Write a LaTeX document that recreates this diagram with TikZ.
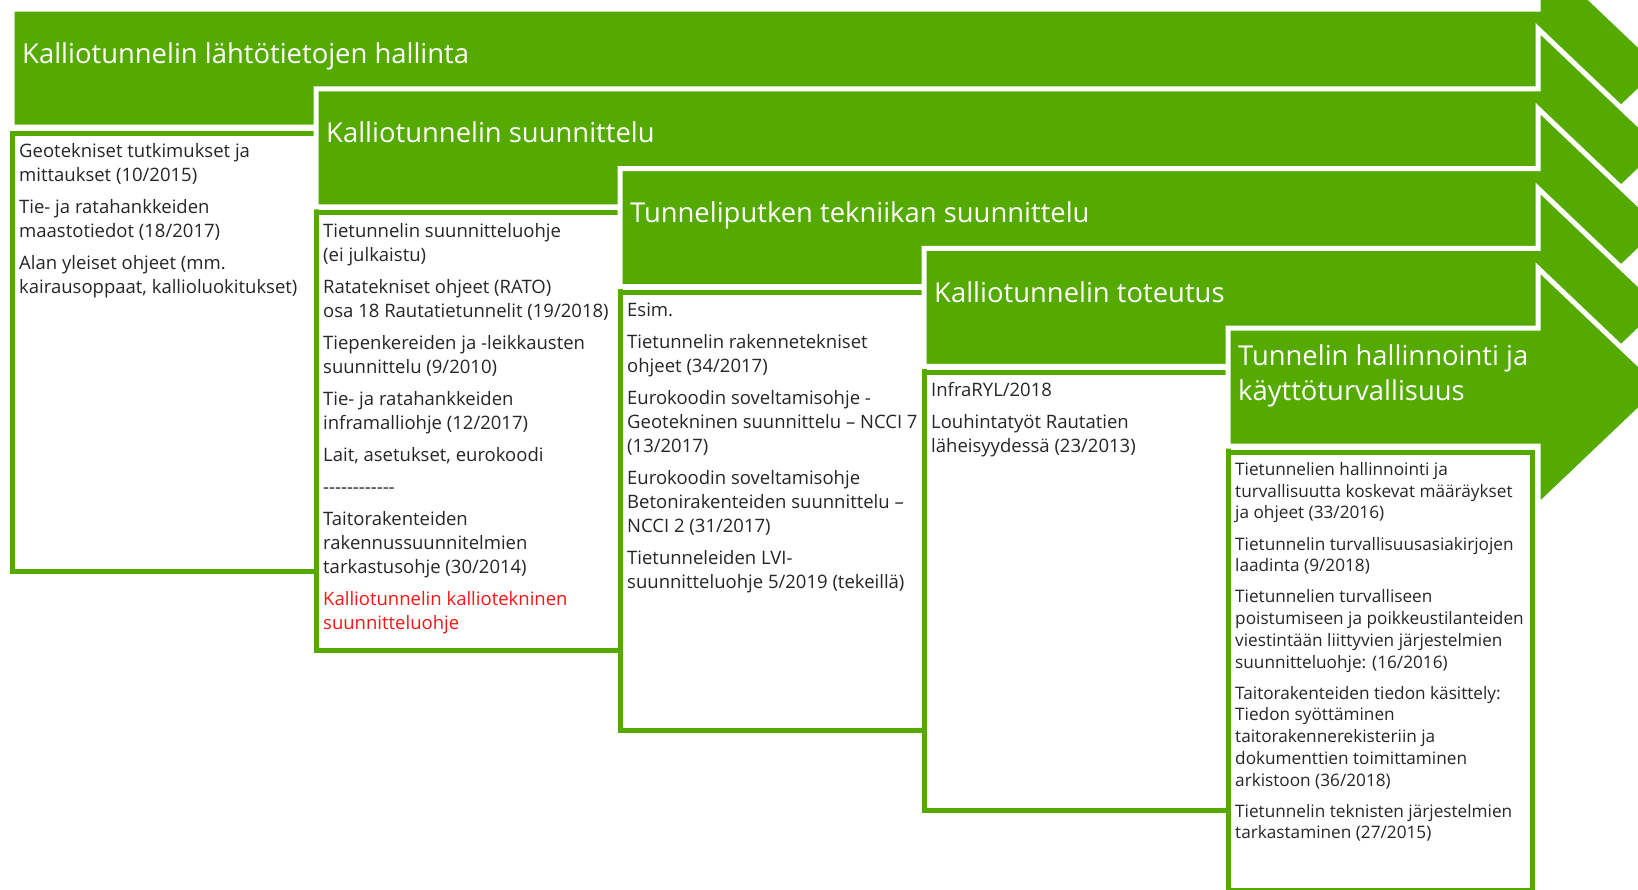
\documentclass[tikz,border=0pt]{standalone}
\usepackage{fontspec}
\setmainfont{Open Sans}
\usepackage{tikz}

\definecolor{vgreen}{RGB}{85,170,0}
\definecolor{vtext}{RGB}{38,38,38}
\definecolor{vred}{RGB}{255,20,20}

\tikzset{
  phase/.style={fill=vgreen,draw=white,line width=5pt},
  listbox/.style={fill=white,draw=vgreen,line width=5pt},
  phasetitle/.style={anchor=base west,inner sep=0pt,text=white,align=left,
    font=\fontsize{27.4}{35}\selectfont},
  listtext/.style={anchor=north west,inner sep=0pt,text=vtext,align=left,
    font=\fontsize{18.5}{24}\selectfont},
}

\begin{document}
\begin{tikzpicture}[x=1pt,y=-1pt]
\pgfmathsetmacro\xb{1538}
\pgfmathsetmacro\xtip{1663}
\pgfmathsetmacro\dy{79.8}
\useasboundingbox (0,0) rectangle (1638,889);
\begin{scope}
\clip (0,0) rectangle (1638,889);
\foreach \k/\xl in {0/12,1/316,2/620,3/924,4/1228} {
  \pgfmathsetmacro\T{9+\dy*\k}
  \pgfmathsetmacro\B{\T+118}
  \draw[phase] (\xl,\T) -- (\xb,\T) -- (\xb,\T-60) -- (\xtip,\T+59)
    -- (\xb,\B+60) -- (\xb,\B) -- (\xl,\B) -- cycle;
  \draw[listbox] (\xl,\B+6) rectangle (\xl+304,\B+444);
}
\end{scope}

\node[phasetitle] (phase1) at (22,63) {Kalliotunnelin lähtötietojen hallinta};
\node[phasetitle] (phase2) at (326,142.8) {Kalliotunnelin suunnittelu};
\node[phasetitle] (phase3) at (630,222.6) {Tunneliputken tekniikan suunnittelu};
\node[phasetitle] (phase4) at (934,302.4) {Kalliotunnelin toteutus};
\node[phasetitle,anchor=north west] (phase5) at (1238,340.5)
  {\strut Tunnelin hallinnointi ja\\käyttöturvallisuus};

\node[listtext] (list1) at (19,140.2) {\strut Geotekniset tutkimukset ja\\
  mittaukset (10/2015)\\[8pt]
  Tie- ja ratahankkeiden\\maastotiedot (18/2017)\\[8pt]
  Alan yleiset ohjeet (mm.\\kairausoppaat, kallioluokitukset)};
\node[listtext] (list2) at (323,220) {\strut Tietunnelin suunnitteluohje\\
  (ei julkaistu)\\[8pt]
  Ratatekniset ohjeet (RATO)\\osa 18 Rautatietunnelit (19/2018)\\[8pt]
  Tiepenkereiden ja -leikkausten\\suunnittelu (9/2010)\\[8pt]
  Tie- ja ratahankkeiden\\inframalliohje (12/2017)\\[8pt]
  Lait, asetukset, eurokoodi\\[8pt]
  {-}{-}{-}{-}{-}{-}{-}{-}{-}{-}{-}{-}\\[8pt]
  Taitorakenteiden\\rakennussuunnitelmien\\tarkastusohje (30/2014)\\[8pt]
  \textcolor{vred}{Kalliotunnelin kalliotekninen}\\
  \textcolor{vred}{suunnitteluohje}};
\node[listtext] (list3) at (627,299.8) {\strut Esim.\\[8pt]
  Tietunnelin rakennetekniset\\ohjeet (34/2017)\\[8pt]
  Eurokoodin soveltamisohje -\\Geotekninen suunnittelu – NCCI 7\\(13/2017)\\[8pt]
  Eurokoodin soveltamisohje\\Betonirakenteiden suunnittelu –\\NCCI 2 (31/2017)\\[8pt]
  Tietunneleiden LVI-\\suunnitteluohje 5/2019 (tekeillä)};
\node[listtext] (list4) at (931,379.6) {\strut InfraRYL/2018\\[8pt]
  Louhintatyöt Rautatien\\läheisyydessä (23/2013)};
\node[listtext,font=\fontsize{17.2}{21.7}\selectfont] (list5) at (1235,460)
  {\strut Tietunnelien hallinnointi ja\\turvallisuutta koskevat määräykset\\
  ja ohjeet (33/2016)\\[9.5pt]
  Tietunnelin turvallisuusasiakirjojen\\laadinta (9/2018)\\[9.5pt]
  Tietunnelien turvalliseen\\poistumiseen ja poikkeustilanteiden\\
  viestintään liittyvien järjestelmien\\suunnitteluohje: (16/2016)\\[9.5pt]
  Taitorakenteiden tiedon käsittely:\\Tiedon syöttäminen\\
  taitorakennerekisteriin ja\\dokumenttien toimittaminen\\arkistoon (36/2018)\\[9.5pt]
  Tietunnelin teknisten järjestelmien\\tarkastaminen (27/2015)};
\end{tikzpicture}
\end{document}
